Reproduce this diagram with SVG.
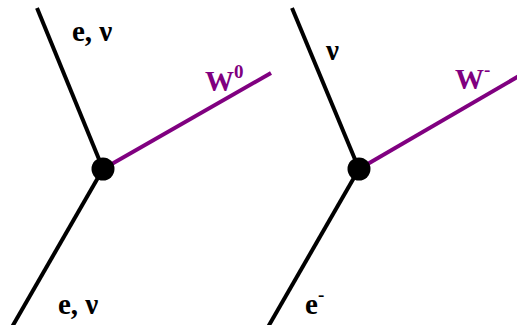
<svg xmlns="http://www.w3.org/2000/svg" width="517" height="325" viewBox="0 0 517 325">
<style>
.f{stroke:#000;stroke-width:4;fill:none}
.w{stroke:#800080;stroke-width:4;fill:none}
.v{fill:#000}
text{font-family:"Liberation Serif","Times New Roman",serif;font-weight:bold;font-size:29px;fill:#000}
.p{fill:#800080}
.s{font-size:19px}
</style>
<rect width="517" height="325" fill="#fff"/>
<g id="connectors">
<line class="f" x1="37" y1="8" x2="103" y2="169"/>
<line class="f" x1="103" y1="169" x2="12" y2="327"/>
<line class="w" x1="103" y1="169" x2="271" y2="73"/>
<line class="f" x1="292" y1="8" x2="359" y2="169"/>
<line class="f" x1="359" y1="169" x2="268" y2="327"/>
<line class="w" x1="359" y1="169" x2="519" y2="76"/>
</g>
<g id="vertex-left"><circle class="v" cx="103" cy="169" r="11.5"/></g>
<g id="vertex-right"><circle class="v" cx="359" cy="169" r="11.5"/></g>
<g id="label-left-top"><text x="72" y="41">e, ν</text></g>
<g id="label-left-w"><text class="p" x="205" y="91">W<tspan class="s" dy="-13">0</tspan></text></g>
<g id="label-left-bottom"><text x="58" y="314">e, ν</text></g>
<g id="label-right-top"><text x="326" y="60">ν</text></g>
<g id="label-right-w"><text class="p" x="455" y="89">W<tspan class="s" dy="-13">-</tspan></text></g>
<g id="label-right-bottom"><text x="305" y="314">e<tspan class="s" dy="-13">-</tspan></text></g>
</svg>
